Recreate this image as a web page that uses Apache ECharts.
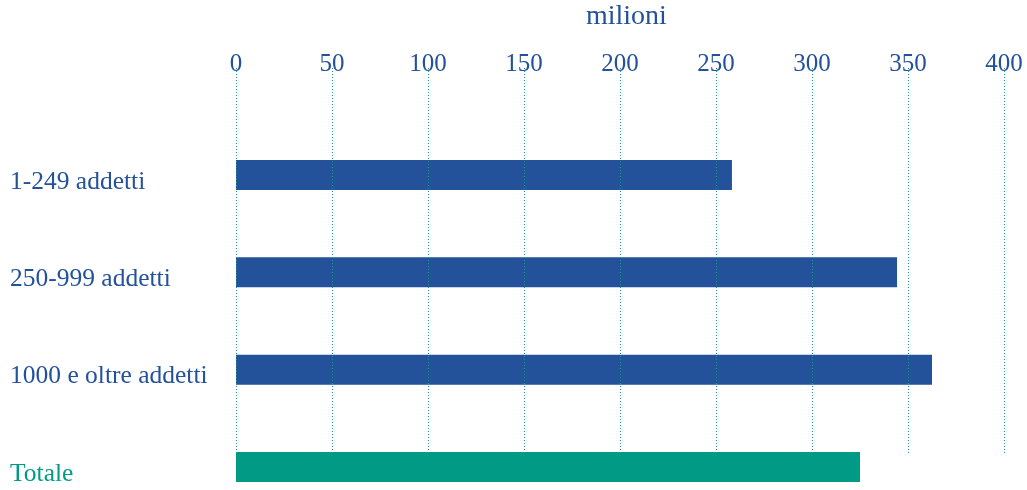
<!DOCTYPE html>
<html>
<head>
<meta charset="utf-8">
<script src="https://cdn.jsdelivr.net/npm/echarts@6/dist/echarts.min.js"></script>
<style>html,body{margin:0;padding:0;background:#fff}#c{width:1027px;height:490px}</style>
</head>
<body>
<div id="c"></div>
<script>
var categories = ['1-249 addetti', '250-999 addetti', '1000 e oltre addetti', 'Totale'];
var values = [258.3, 344.3, 362.5, 325.0];
var tickMin = 0, tickMax = 400, tickStep = 50;
var unitLabel = 'milioni';

var BLUE = '#23519a', TEAL = '#019a85', GRID = '#1a9a8c';
var FONT = '"Liberation Serif", "DejaVu Serif", serif';

var chart = echarts.init(document.getElementById('c'));
chart.setOption({
  animation: false,
  backgroundColor: '#fff',
  graphic: [{
    type: 'text', left: 586, top: 3, z: 20,
    style: { text: unitLabel, font: '28px ' + FONT, fill: BLUE }
  }],
  grid: [
    { left: 236, right: 23, top: 175, bottom: 23 },
    { left: 236, right: 23, top: 68, bottom: 35 }
  ],
  xAxis: [
    { gridIndex: 0, type: 'value', min: tickMin, max: tickMax, interval: tickStep, show: false },
    { gridIndex: 1, type: 'value', position: 'top', min: tickMin, max: tickMax, interval: tickStep, z: 10,
      axisLine: { show: false }, axisTick: { show: false },
      axisLabel: { margin: -9, color: BLUE, fontFamily: FONT, fontSize: 25 },
      splitLine: { show: true, lineStyle: { color: GRID, type: [1, 2], width: 1 } } }
  ],
  yAxis: [
    { gridIndex: 0, type: 'category', inverse: true, boundaryGap: false, data: categories,
      axisLine: { show: false }, axisTick: { show: false },
      axisLabel: { align: 'left', margin: 226,
        formatter: function (v, i) { return (i === categories.length - 1 ? '{b|' : '{a|') + v + '}'; },
        rich: {
          a: { color: BLUE, fontFamily: FONT, fontSize: 25.5, padding: [14, 0, 0, 0] },
          b: { color: TEAL, fontFamily: FONT, fontSize: 25.5, padding: [14, 0, 0, 0] }
        } } },
    { gridIndex: 1, type: 'category', show: false, data: [''] }
  ],
  series: [{
    type: 'bar', xAxisIndex: 0, yAxisIndex: 0, barWidth: 30, z: 2,
    data: values,
    itemStyle: { color: function (p) { return p.dataIndex === categories.length - 1 ? TEAL : BLUE; } }
  }]
});
</script>
</body>
</html>
